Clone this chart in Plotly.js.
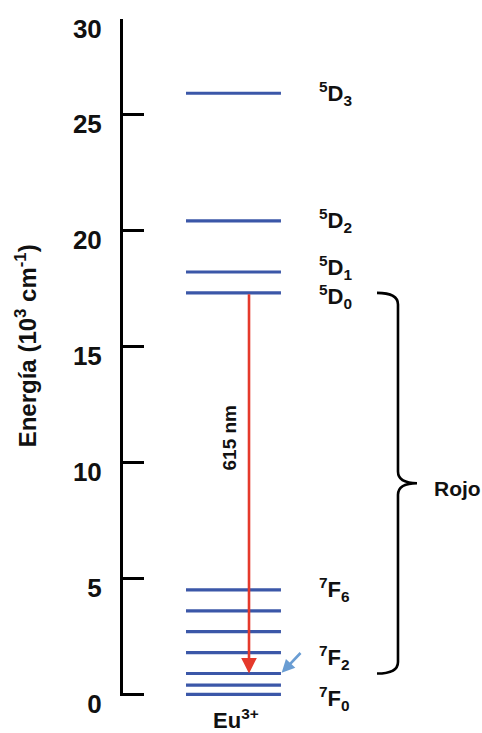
<!DOCTYPE html>
<html>
<head>
<meta charset="utf-8">
<script src="https://cdn.plot.ly/plotly-3.0.1.min.js"></script>
<style>html,body{margin:0;padding:0;background:#fff;}#chart{width:482px;height:733px;}</style>
</head>
<body>
<div id="chart"></div>
<script>
// Energy levels of Eu3+ (10^3 cm^-1)
const levelNames  = ['5D3','5D2','5D1','5D0','7F6','7F5','7F4','7F3','7F2','7F1','7F0'];
const levelEnergy = [25.9, 20.4, 18.2, 17.3, 4.5, 3.6, 2.7, 1.8, 0.9, 0.4, 0.0];
// Labelled levels and their text
const labelLevels = ['5D3','5D2','5D1','5D0','7F6','7F2','7F0'];
const labelTexts  = ['<sup>5</sup>D<sub>3</sub>','<sup>5</sup>D<sub>2</sub>','<sup>5</sup>D<sub>1</sub>','<sup>5</sup>D<sub>0</sub>',
                     '<sup>7</sup>F<sub>6</sub>','<sup>7</sup>F<sub>2</sub>','<sup>7</sup>F<sub>0</sub>'];
const labelShift  = [0, 0, 4, -4, 0, 16, -4];
// Transition
const transFrom = '5D0', transTo = '7F2', transText = '615 nm';
const groupText = 'Rojo';
const ionText = 'Eu<sup>3+</sup>';
// Axis ticks
const tickVals = [0, 5, 10, 15, 20, 25, 29.1];
const tickText = ['0', '5', '10', '15', '20', '25', '30'];

const E = n => levelEnergy[levelNames.indexOf(n)];

const X0 = 0.1755, X1 = 0.44, XARROW = 0.351;
const BLUE = '#3b57a8';

const lx = [], ly = [];
levelEnergy.forEach(v => { lx.push(X0, X1, null); ly.push(v, v, null); });

const traces = [{
  x: lx, y: ly, type: 'scatter', mode: 'lines',
  line: {color: BLUE, width: 3.2}, hoverinfo: 'skip', showlegend: false
}];

const annotations = [];
labelLevels.forEach((n, i) => {
  annotations.push({
    x: 0.540, y: E(n), xref: 'x', yref: 'y', xanchor: 'left', yanchor: 'middle',
    text: labelTexts[i], showarrow: false, yshift: labelShift[i],
    font: {family: 'Liberation Sans', size: 22, color: '#111', weight: 'bold'}
  });
});
// red transition arrow
annotations.push({
  x: XARROW, y: E(transTo), ax: XARROW, ay: E(transFrom), xref: 'x', yref: 'y', axref: 'x', ayref: 'y',
  text: '', showarrow: true, arrowhead: 2, arrowsize: 1.2, arrowwidth: 2.6, arrowcolor: '#e5392b', standoff: 0
});
annotations.push({
  x: 0.298, y: E(transTo) + 0.62 * (E(transFrom) - E(transTo)), xref: 'x', yref: 'y', textangle: -90,
  text: transText, showarrow: false, xanchor: 'center', yanchor: 'middle',
  font: {family: 'Liberation Sans', size: 19, color: '#111', weight: 'bold'}
});
// light blue pointer to 7F2
annotations.push({
  x: X1, y: E('7F2'), xref: 'x', yref: 'y', ax: 21, ay: -22,
  text: '', showarrow: true, arrowhead: 2, arrowsize: 1, arrowwidth: 2.6, arrowcolor: '#6a9dd3', standoff: 1
});
// Rojo
const bTop = E(transFrom), bBot = E(transTo), bMid = (bTop + bBot) / 2;
annotations.push({
  x: 0.861, y: bMid, xref: 'x', yref: 'y', xanchor: 'left', yanchor: 'middle', yshift: -5,
  text: groupText, showarrow: false,
  font: {family: 'Liberation Sans', size: 21, color: '#111', weight: 'bold'}
});
// Eu3+
annotations.push({
  x: 0.316, y: 0, xref: 'x', yref: 'y', xanchor: 'center', yanchor: 'middle', yshift: -25,
  text: ionText, showarrow: false,
  font: {family: 'Liberation Sans', size: 22, color: '#111', weight: 'bold'}
});
// y title
annotations.push({
  x: -0.27, y: 15.0, xref: 'paper', yref: 'y', xanchor: 'center', yanchor: 'middle', textangle: -90,
  text: 'Energía (10<sup>3</sup> cm<sup>-1</sup>)', showarrow: false,
  font: {family: 'Liberation Sans', size: 24, color: '#111', weight: 'bold'}
});

// brace
const tipX = 0.7075, spX = 0.766, ptX = 0.819, rr = 0.5;
const brace = `M ${tipX},${bTop} Q ${spX},${bTop} ${spX},${bTop - rr} L ${spX},${bMid + rr} ` +
  `Q ${spX},${bMid} ${ptX},${bMid} Q ${spX},${bMid} ${spX},${bMid - rr} L ${spX},${bBot + rr} ` +
  `Q ${spX},${bBot} ${tipX},${bBot}`;

const layout = {
  width: 482, height: 733,
  margin: {l: 123, r: 0, t: 19, b: 37.4},
  paper_bgcolor: '#fff', plot_bgcolor: '#fff',
  showlegend: false,
  xaxis: {range: [0, 1], visible: false, fixedrange: true},
  yaxis: {
    range: [-0.07, 29.1001], showgrid: false, zeroline: false,
    showline: true, linecolor: '#000', linewidth: 3,
    ticks: 'inside', ticklen: 21, tickwidth: 3, tickcolor: '#000',
    tickvals: tickVals, ticktext: tickText,
    ticklabelstandoff: 13, ticklabelshift: 10,
    tickfont: {family: 'Liberation Sans', size: 26, color: '#111', weight: 'bold'},
    fixedrange: true
  },
  shapes: [{type: 'path', xref: 'x', yref: 'y', path: brace, line: {color: '#000', width: 2.6}}],
  annotations: annotations
};

Plotly.newPlot('chart', traces, layout, {displayModeBar: false, staticPlot: true});
</script>
</body>
</html>
